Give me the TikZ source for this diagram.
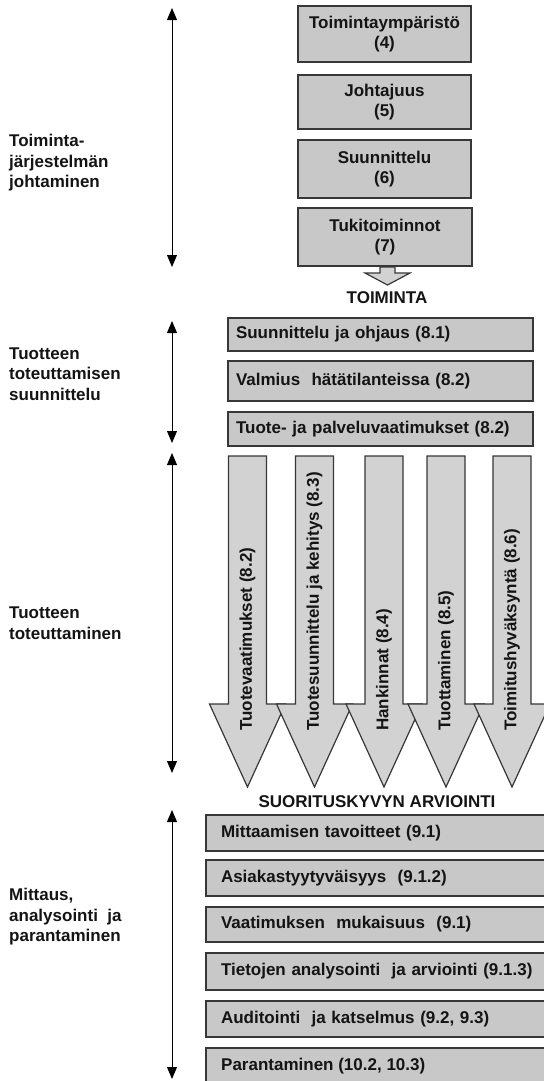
\documentclass[tikz,border=0pt]{standalone}
\usepackage{fontspec}
\setmainfont{Liberation Sans}
\usetikzlibrary{arrows.meta}
\definecolor{boxfill}{RGB}{200,200,200}
\definecolor{arrfill}{RGB}{210,210,210}
\definecolor{edge}{RGB}{55,55,55}
\definecolor{ink}{RGB}{20,20,20}
\begin{document}
\begin{tikzpicture}[x=1bp,y=-1bp,
  txt/.style={text=ink,font=\bfseries\fontsize{17bp}{20.5bp}\selectfont,inner sep=0pt},
  topbox/.style={txt,draw=edge,line width=1.2bp,fill=boxfill,align=center,minimum width=173bp},
  midbox/.style={txt,draw=edge,line width=1.2bp,fill=boxfill,align=left,inner xsep=8bp,text width=289bp},
  botbox/.style={txt,draw=edge,line width=1.2bp,fill=boxfill,align=left,inner xsep=15bp,text width=312bp},
  arrshape/.style={draw=edge,line width=1.2bp,fill=arrfill},
  sidelabel/.style={txt,align=left,anchor=west},
  dbl/.style={draw=black,line width=1bp,{Triangle[width=10bp,length=12bp]}-{Triangle[width=10bp,length=12bp]}}
]
\useasboundingbox (0,0) rectangle (544,1081);

% top boxes
\node[topbox,minimum height=56bp] (t1) at (384.5,34) {Toimintaympäristö\\(4)};
\node[topbox,minimum height=54bp] (t2) at (384.5,102) {Johtajuus\\(5)};
\node[topbox,minimum height=58bp] (t3) at (384.5,169) {Suunnittelu\\(6)};
\node[topbox,minimum height=58bp,minimum width=174bp] (t4) at (385,237) {Tukitoiminnot\\(7)};

% small arrow
\draw[arrshape] (380,267) -- (395,267) -- (395,273) -- (410,273) -- (387.5,285) -- (365,273) -- (380,273) -- cycle;
\node[txt] (toim) at (387,298) {TOIMINTA};

% middle boxes
\node[midbox,minimum height=33bp] (m1) at (380.5,334.5) {Suunnittelu ja ohjaus (8.1)};
\node[midbox,minimum height=40bp] (m2) at (380.5,381) {Valmius\ \ hätätilanteissa (8.2)};
\node[midbox,minimum height=34bp] (m3) at (380.5,429) {Tuote- ja palveluvaatimukset (8.2)};

% big arrows
\foreach \cx/\lab [count=\i] in {247.5/{Tuotevaatimukset (8.2)},314.5/{Tuotesuunnittelu ja kehitys (8.3)},384/{Hankinnat (8.4)},446/{Tuottaminen (8.5)},512/{Toimitushyväksyntä (8.6)}}{
  \draw[arrshape] ({\cx-19},456) -- ({\cx+19},456) -- ({\cx+19},704) -- ({\cx+38},704) -- (\cx,787) -- ({\cx-38},704) -- ({\cx-19},704) -- cycle;
  \node[txt,rotate=90,anchor=west] (a\i) at (\cx,731) {\lab};
}

\node[txt] (suor) at (377,802) {SUORITUSKYVYN ARVIOINTI};

% bottom boxes
\node[botbox,minimum height=36bp] (b1) at (377,833) {Mittaamisen tavoitteet (9.1)};
\node[botbox,minimum height=36bp] (b2) at (377,878) {Asiakastyytyväisyys\ \ (9.1.2)};
\node[botbox,minimum height=35bp] (b3) at (377,924.5) {Vaatimuksen\ \ mukaisuus\ \ (9.1)};
\node[botbox,minimum height=37bp] (b4) at (377,971.5) {Tietojen analysointi\ \ ja arviointi (9.1.3)};
\node[botbox,minimum height=36bp] (b5) at (377,1019) {Auditointi\ \ ja katselmus (9.2, 9.3)};
\draw[draw=edge,line width=1.2bp,fill=boxfill] (206,1048) rectangle (548,1090);
\node[txt,anchor=west] (b6) at (221,1066) {Parantaminen (10.2, 10.3)};

% left double arrows
\coordinate (l1t) at (172,8);   \coordinate (l1b) at (172,267);
\coordinate (l2t) at (172,321); \coordinate (l2b) at (172,443);
\coordinate (l3t) at (172,453); \coordinate (l3b) at (172,773);
\coordinate (l4t) at (172,810); \coordinate (l4b) at (172,1079);
\draw[dbl] (l1t) -- (l1b);
\draw[dbl] (l2t) -- (l2b);
\draw[dbl] (l3t) -- (l3b);
\draw[dbl] (l4t) -- (l4b);

% left labels
\node[sidelabel] (s1) at (9,163) {Toiminta-\\järjestelmän\\johtaminen};
\node[sidelabel] (s2) at (9,374) {Tuotteen\\toteuttamisen\\suunnittelu};
\node[sidelabel] (s3) at (9,623) {Tuotteen\\toteuttaminen};
\node[sidelabel] (s4) at (9,917) {Mittaus,\\analysointi\ \ ja\\parantaminen};
\end{tikzpicture}
\end{document}
